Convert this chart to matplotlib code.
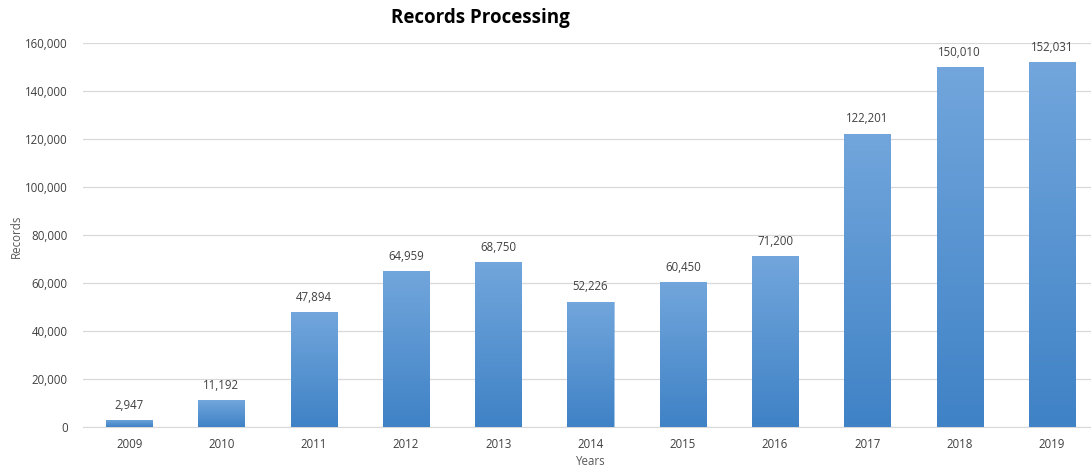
import numpy as np
import matplotlib.pyplot as plt
from matplotlib.colors import LinearSegmentedColormap

years = ['2009', '2010', '2011', '2012', '2013', '2014', '2015', '2016', '2017', '2018', '2019']
records = [2947, 11192, 47894, 64959, 68750, 52226, 60450, 71200, 122201, 150010, 152031]

plt.rcParams['font.family'] = ['Open Sans', 'DejaVu Sans']

fig = plt.figure(figsize=(10.91, 4.72), dpi=100)
ax = fig.add_axes([83 / 1091, (472 - 427) / 472, 1015 / 1091, 384 / 472])

x = np.arange(len(years))
bars = ax.bar(x, records, width=0.5, color='none', zorder=3)

# vertical gradient fill for each bar
cmap = LinearSegmentedColormap.from_list('bar', ['#3f82c6', '#72a6dc'])
grad = np.linspace(0, 1, 256).reshape(-1, 1)
for b in bars:
    bx, by = b.get_x(), b.get_y()
    w, h = b.get_width(), b.get_height()
    im = ax.imshow(grad, cmap=cmap, origin='lower', aspect='auto',
                   extent=[bx, bx + w, by, by + h], zorder=3)
    im.set_clip_path(b)
    b.set_edgecolor('#5b95d3')
    b.set_linewidth(0.4)

for xi, v in zip(x, records):
    ax.annotate(f'{v:,}', (xi, v), xytext=(0, 6), textcoords='offset points',
                ha='center', va='bottom', fontsize=8.3, color='#404040')

ax.set_xlim(-0.5, 10.5)
ax.set_ylim(0, 160000)
ax.set_yticks(np.arange(0, 160001, 20000))
ax.yaxis.set_major_formatter(plt.FuncFormatter(lambda v, p: f'{int(v):,}'))
ax.set_xticks(x)
ax.set_xticklabels(years)
ax.tick_params(axis='both', length=0, labelsize=8.3, labelcolor='#404040')
ax.tick_params(axis='x', pad=8)
ax.tick_params(axis='y', pad=11)
ax.grid(axis='y', color='#d9d9d9', linewidth=0.9, zorder=0)
for s in ['top', 'right', 'left']:
    ax.spines[s].set_visible(False)
ax.spines['bottom'].set_color('#d9d9d9')

ax.set_xlabel('Years', fontsize=8.3, color='#595959', labelpad=3)
fig.text(16 / 1091, 0.5, 'Records', rotation=90, ha='center', va='center',
         fontsize=8.3, color='#595959')
fig.text(480 / 1091, 1 - 18 / 472, 'Records Processing', ha='center', va='center',
         fontsize=13.5, fontweight='bold', color='black')

fig.savefig('out.png', dpi=100)
